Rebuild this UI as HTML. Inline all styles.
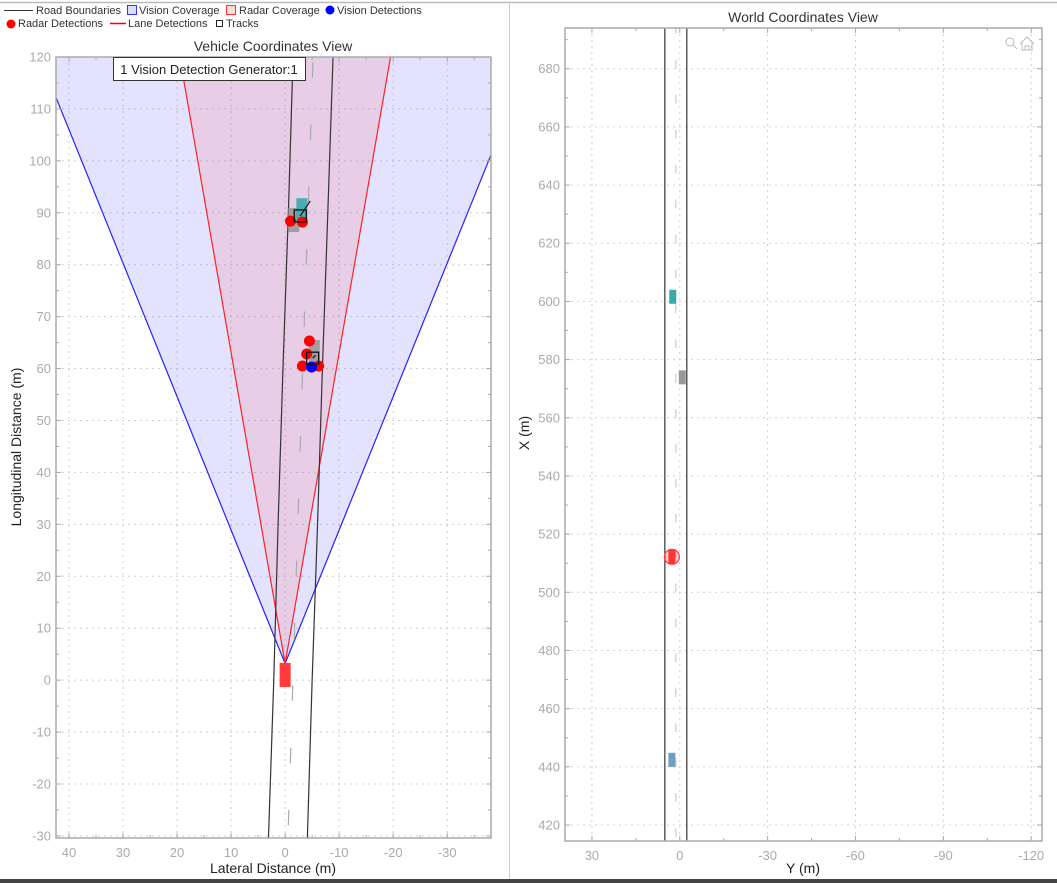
<!DOCTYPE html>
<html><head><meta charset="utf-8"><style>
html,body{margin:0;padding:0;background:#fff;}
svg{display:block;font-family:"Liberation Sans",sans-serif;}
</style></head><body>
<svg id="s" width="1057" height="883" viewBox="0 0 1057 883" xmlns="http://www.w3.org/2000/svg">
<rect x="0" y="0" width="1057" height="883" fill="#fff"/>
<line x1="0" y1="2.5" x2="1057" y2="2.5" stroke="#bbb" stroke-width="1.5"/>
<line x1="509.5" y1="4" x2="509.5" y2="880" stroke="#ccc"/>
<rect x="0" y="879" width="1057" height="4" fill="#444"/>
<g font-size="11" fill="#333">
 <g><line x1="4" y1="10.5" x2="33" y2="10.5" stroke="#333"/><text x="36" y="14">Road Boundaries</text></g>
 <g><rect x="127.5" y="5.5" width="9" height="9" fill="#ddf" stroke="#33f"/><text x="139" y="14">Vision Coverage</text></g>
 <g><rect x="226.5" y="5.5" width="9" height="9" fill="#fdd" stroke="#f33"/><text x="239" y="14">Radar Coverage</text></g>
 <g><circle cx="330" cy="10" r="4.5" fill="#00f"/><text x="337" y="14">Vision Detections</text></g>
 <g><circle cx="11" cy="24" r="4.5" fill="#f00"/><text x="18" y="27">Radar Detections</text></g>
 <g><line x1="110" y1="23.5" x2="126" y2="23.5" stroke="#ff0000" stroke-width="1.5"/><text x="128" y="27">Lane Detections</text></g>
 <g><rect x="216.5" y="20.5" width="6" height="6" fill="none" stroke="#222"/><text x="226" y="27">Tracks</text></g>
</g>
<g id="left"></g>
<g id="right"></g>
</svg>
<script>
// ---- Vehicle view data ----
const vehXTicks=[40,30,20,10,0,-10,-20,-30];
const vehYTicks=[-30,-20,-10,0,10,20,30,40,50,60,70,80,90,100,110,120];
const roadLon=[-31,0,30,60,90,121];
const roadLeftLat=[3.1,2.1,1.3,0.4,-0.6,-1.5];
const roadRightLat=[-4.1,-5.0,-6.0,-6.9,-7.9,-8.9];
const sensorLon=[3.2];
const visionHalfTan=[0.389];
const radarHalfTan=[0.167];
const radarDetLat=[-1.0,-3.2,-4.5,-4.0,-3.2,-6.2];
const radarDetLon=[88.4,88.2,65.3,62.8,60.5,60.5];
const visionDetLat=[-4.9];
const visionDetLon=[60.3];
const trackLat=[-2.8,-5.1];
const trackLon=[89.4,62.0];
const vehCarLat=[-1.6,-3.1,-5.4];
const vehCarLon=[88.6,90.5,63.2];
const vehCarColor=["#999","#3aabab","#999"];
// ---- World view data ----
const worldXTicks=[420,440,460,480,500,520,540,560,580,600,620,640,660,680];
const worldYTicks=[30,0,-30,-60,-90,-120];
const worldRoadY=[5.1,-2.4];
const worldCarY=[2.4,-0.85,2.7,2.7];
const worldCarX=[601.6,573.9,512.2,442.4];
const worldCarColor=["#3aabab","#999","#f33","#6e9fc0"];

const NS="http://www.w3.org/2000/svg";
function mk(p,t,a){const e=document.createElementNS(NS,t);for(const k in a)e.setAttribute(k,a[k]);p.appendChild(e);return e;}

const L={x0:56,x1:491,y0:57,y1:838,xmin:42.4,xmax:-38.1,ymin:-30.4,ymax:120};
const lx=v=>L.x0+(v-L.xmin)/(L.xmax-L.xmin)*(L.x1-L.x0);
const ly=v=>L.y1-(v-L.ymin)/(L.ymax-L.ymin)*(L.y1-L.y0);
const R={x0:565,x1:1042,y0:28,y1:841,xmin:39.2,xmax:-123.7,ymin:414.5,ymax:694};
const rx=v=>R.x0+(v-R.xmin)/(R.xmax-R.xmin)*(R.x1-R.x0);
const ry=v=>R.y1-(v-R.ymin)/(R.ymax-R.ymin)*(R.y1-R.y0);

function axes(g,A,fx,fy,xt,yt,name){
  const grid=mk(g,'g',{});
  
  
  xt.forEach(v=>{mk(grid,'line',{x1:fx(v),x2:fx(v),y1:A.y0,y2:A.y1,stroke:'#d0d0d0','stroke-dasharray':'2,4'});});
  yt.forEach(v=>{mk(grid,'line',{x1:A.x0,x2:A.x1,y1:fy(v),y2:fy(v),stroke:'#d0d0d0','stroke-dasharray':'2,4'});});
}
function frame(g,A,fx,fy,xt,yt,name,minorX,minorY){
  const f=mk(g,'g',{});
  
  
  mk(f,'rect',{x:A.x0,y:A.y0,width:A.x1-A.x0,height:A.y1-A.y0,fill:'none',stroke:'#aaa','stroke-width':1.5});
  const tick=(x1,y1,x2,y2)=>mk(f,'line',{x1,y1,x2,y2,stroke:'#aaa'});
  xt.forEach(v=>{const x=fx(v);tick(x,A.y1,x,A.y1-5);tick(x,A.y0,x,A.y0+5);
    const t=mk(f,'text',{x:x,y:A.y1+19,'text-anchor':'middle','font-size':13,fill:'#aaa'});t.textContent=v;
    });
  yt.forEach(v=>{const y=fy(v);tick(A.x0,y,A.x0+5,y);tick(A.x1,y,A.x1-5,y);
    const t=mk(f,'text',{x:A.x0-5,y:y+4.5,'text-anchor':'end','font-size':13,fill:'#aaa'});t.textContent=v;
    });
  minorX.forEach(v=>{const x=fx(v);tick(x,A.y1,x,A.y1-3);tick(x,A.y0,x,A.y0+3);});
  minorY.forEach(v=>{const y=fy(v);tick(A.x0,y,A.x0+3,y);tick(A.x1,y,A.x1-3,y);});
}
function clip(id,A){const d=mk(document.getElementById('s'),'clipPath',{id});mk(d,'rect',{x:A.x0,y:A.y0,width:A.x1-A.x0,height:A.y1-A.y0});}
clip('cl',L);clip('cr',R);

// ---------- LEFT ----------
const gl=document.getElementById('left');
axes(gl,L,lx,ly,vehXTicks,vehYTicks,'vehicle');
const pl=mk(gl,'g',{'clip-path':'url(#cl)'});
const sL=sensorLon[0],far=200;
const vis=mk(pl,'polygon',{points:[[lx(0),ly(sL)],[lx(far*visionHalfTan[0]),ly(sL+far)],[lx(-far*visionHalfTan[0]),ly(sL+far)]].map(p=>p.join(',')).join(' '),fill:'rgba(90,90,255,0.17)',stroke:'#22f','stroke-width':1.2});


const rad=mk(pl,'polygon',{points:[[lx(0),ly(sL)],[lx(far*radarHalfTan[0]),ly(sL+far)],[lx(-far*radarHalfTan[0]),ly(sL+far)]].map(p=>p.join(',')).join(' '),fill:'rgba(255,80,80,0.15)',stroke:'#f22','stroke-width':1.2});


function interp(arr,lon){for(let i=0;i<roadLon.length-1;i++){if(lon<=roadLon[i+1]||i===roadLon.length-2){const t=(lon-roadLon[i])/(roadLon[i+1]-roadLon[i]);return arr[i]+t*(arr[i+1]-arr[i]);}}}
[roadLeftLat,roadRightLat].forEach((arr,k)=>{
  const p=mk(pl,'polyline',{points:roadLon.map((v,i)=>lx(arr[i])+','+ly(v)).join(' '),fill:'none',stroke:'#333','stroke-width':1.2});
  
  
});
for(let lon=-28;lon<121;lon+=12){
  const c1=(interp(roadLeftLat,lon)+interp(roadRightLat,lon))/2,c2=(interp(roadLeftLat,lon+3)+interp(roadRightLat,lon+3))/2;
  const d=mk(pl,'line',{x1:lx(c1),y1:ly(lon),x2:lx(c2),y2:ly(lon+3),stroke:'#aaa','stroke-width':1.2});
  
  
}
vehCarLat.forEach((v,i)=>{
  const r=mk(pl,'rect',{x:lx(v)-5.5,y:ly(vehCarLon[i])-12,width:11,height:24,fill:vehCarColor[i],opacity:0.9});
  
  
});
const ego=mk(pl,'rect',{x:lx(0)-5.5,y:ly(1)-12,width:11,height:24,fill:'#ff3030',opacity:0.95});


radarDetLat.forEach((v,i)=>{
  const c=mk(pl,'circle',{cx:lx(v),cy:ly(radarDetLon[i]),r:5.5,fill:'#f00'});
  
  
});
visionDetLat.forEach((v,i)=>{
  const c=mk(pl,'circle',{cx:lx(v),cy:ly(visionDetLon[i]),r:5.5,fill:'#00f'});
  
  
});
trackLat.forEach((v,i)=>{
  const x=lx(v),y=ly(trackLon[i]);
  const t=mk(pl,'rect',{x:x-6,y:y-6,width:12,height:12,fill:'none',stroke:'#111','stroke-width':1.3});
  
  
  mk(pl,'line',{x1:x,y1:y,x2:x+(i?3:10),y2:y-(i?3:15),stroke:'#111','stroke-width':1.2});
});
frame(gl,L,lx,ly,vehXTicks,vehYTicks,'vehicle',[35,25,15,5,-5,-15,-25,-35],vehYTicks.map(v=>v+5).filter(v=>v<120));
const tb=mk(gl,'g',{});


mk(tb,'rect',{x:113.5,y:57.5,width:192,height:23,fill:'#fff',stroke:'#333'});
mk(tb,'text',{x:209,y:74,'text-anchor':'middle','font-size':13,fill:'#222'}).textContent='1 Vision Detection Generator:1';
const t1=mk(gl,'text',{x:273,y:51,'text-anchor':'middle','font-size':14,fill:'#333'});t1.textContent='Vehicle Coordinates View';

const t2=mk(gl,'text',{x:273,y:873,'text-anchor':'middle','font-size':14,fill:'#222'});t2.textContent='Lateral Distance (m)';

const t3=mk(gl,'text',{x:0,y:0,'text-anchor':'middle','font-size':14,fill:'#222',transform:'translate(21,447) rotate(-90)'});t3.textContent='Longitudinal Distance (m)';


// ---------- RIGHT ----------
const gr=document.getElementById('right');
axes(gr,R,rx,ry,worldYTicks,worldXTicks,'world');
const pr=mk(gr,'g',{'clip-path':'url(#cr)'});
worldRoadY.forEach(v=>{
  const l=mk(pr,'line',{x1:rx(v),x2:rx(v),y1:R.y0,y2:R.y1,stroke:'#333','stroke-width':1.2});
  
  
});
const cY=(worldRoadY[0]+worldRoadY[1])/2;
for(let x=416;x<694;x+=12){
  const d=mk(pr,'line',{x1:rx(cY),x2:rx(cY),y1:ry(x),y2:ry(x+3),stroke:'#ccc','stroke-width':1.2});
  
  
}
worldCarY.forEach((v,i)=>{
  const r=mk(pr,'rect',{x:rx(v)-3.5,y:ry(worldCarX[i])-7,width:7,height:14,fill:worldCarColor[i]});
  
  
});
const ec=mk(pr,'circle',{cx:rx(worldCarY[2]),cy:ry(worldCarX[2]),r:7.5,fill:'rgba(255,60,60,0.25)',stroke:'#f33','stroke-width':1.2});


frame(gr,R,rx,ry,worldYTicks,worldXTicks,'world',[15,-15,-45,-75,-105],worldXTicks.map(v=>v+10).filter(v=>v<694));
const w1=mk(gr,'text',{x:803,y:22,'text-anchor':'middle','font-size':14,fill:'#333'});w1.textContent='World Coordinates View';

const w2=mk(gr,'text',{x:803,y:873,'text-anchor':'middle','font-size':14,fill:'#222'});w2.textContent='Y (m)';

const w3=mk(gr,'text',{x:0,y:0,'text-anchor':'middle','font-size':14,fill:'#222',transform:'translate(529,433) rotate(-90)'});w3.textContent='X (m)';

const zb=mk(gr,'g',{stroke:'#bbb',fill:'none','stroke-width':1});


mk(zb,'circle',{cx:1010,cy:42,r:4});mk(zb,'line',{x1:1013,y1:45,x2:1017,y2:49});
const hb=mk(gr,'g',{stroke:'#bbb',fill:'none','stroke-width':1});


mk(hb,'path',{d:'M1020,44 L1027,37 L1034,44 M1022,43 V50 H1032 V43 M1025,50 V46 H1029 V50'});
</script>
</body></html>
